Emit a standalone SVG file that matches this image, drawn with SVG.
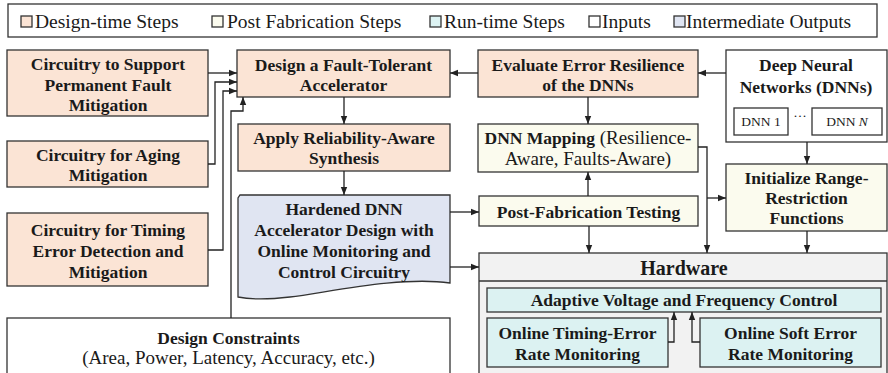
<svg xmlns="http://www.w3.org/2000/svg" width="888" height="373" viewBox="0 0 888 373" font-family="'Liberation Serif', 'Times New Roman', serif">
<defs>
<marker id="ah" viewBox="0 0 10 10" refX="10" refY="5" markerWidth="8" markerHeight="8" markerUnits="userSpaceOnUse" orient="auto"><path d="M0,1 L10,5 L0,9 z" fill="#222"/></marker>
<style>
text{fill:#1a1a1a}
.b{font-weight:bold;font-size:17.5px;text-anchor:middle}
.r{font-size:19px;text-anchor:middle}
.lg{font-size:19.5px}
.sm{font-size:13.5px;text-anchor:middle}
.box{stroke:#333;stroke-width:1.3}
.dt{fill:#fbe4d5}
.pf{fill:#fbfbee}
.rt{fill:#dcf2f2}
.in{fill:#fff}
.io{fill:#e0e5f2}
.hw{fill:#f2f2f2}
.c{fill:none;stroke:#222;stroke-width:1.3;marker-end:url(#ah)}
</style>
</defs>
<g id="legend">
<rect x="8" y="4" width="869" height="33" fill="#fff" stroke="#333" stroke-width="1.3"/>
<rect x="21" y="16" width="11" height="11" class="box dt" stroke-width="1"/>
<text x="35" y="28" class="lg">Design-time Steps</text>
<rect x="212" y="16" width="11" height="11" class="box pf" stroke-width="1"/>
<text x="227" y="28" class="lg">Post Fabrication Steps</text>
<rect x="430" y="16" width="11" height="11" class="box rt" stroke-width="1"/>
<text x="444" y="28" class="lg">Run-time Steps</text>
<rect x="589" y="16" width="11" height="11" class="box in" stroke-width="1"/>
<text x="602" y="28" class="lg">Inputs</text>
<rect x="674" y="16" width="11" height="11" class="box io" stroke-width="1"/>
<text x="686" y="28" class="lg">Intermediate Outputs</text>
</g>
<g id="perm">
<rect x="7" y="50" width="201" height="66" class="box dt"/>
<text class="b" x="108" y="70">Circuitry to Support</text>
<text class="b" x="108" y="91">Permanent Fault</text>
<text class="b" x="108" y="111">Mitigation</text>
</g>
<g id="aging">
<rect x="7" y="141" width="201" height="46" class="box dt"/>
<text class="b" x="108" y="161">Circuitry for Aging</text>
<text class="b" x="108" y="181">Mitigation</text>
</g>
<g id="timing">
<rect x="7" y="213" width="201" height="73" class="box dt"/>
<text class="b" x="108" y="236">Circuitry for Timing</text>
<text class="b" x="108" y="257">Error Detection and</text>
<text class="b" x="108" y="278">Mitigation</text>
</g>
<g id="design">
<rect x="237" y="50" width="213" height="47" class="box dt"/>
<text class="b" x="343.5" y="71">Design a Fault-Tolerant</text>
<text class="b" x="343.5" y="91">Accelerator</text>
</g>
<g id="synth">
<rect x="238" y="124" width="212" height="47" class="box dt"/>
<text class="b" x="344" y="144">Apply Reliability-Aware</text>
<text class="b" x="344" y="164">Synthesis</text>
</g>
<g id="hardened">
<path d="M240,195 L450,195 L450,283 C400,276 330,292 290,297 C265,300 248,299 238,297 L238,198 Z" class="box io"/>
<text class="b" x="344" y="215">Hardened DNN</text>
<text class="b" x="344" y="236">Accelerator Design with</text>
<text class="b" x="344" y="257">Online Monitoring and</text>
<text class="b" x="344" y="278">Control Circuitry</text>
</g>
<g id="evaluate">
<rect x="478" y="50" width="220" height="47" class="box dt"/>
<text class="b" x="588" y="71">Evaluate Error Resilience</text>
<text class="b" x="588" y="91">of the DNNs</text>
</g>
<g id="dnns">
<rect x="726" y="50" width="161" height="92" class="box in"/>
<text class="b" x="806" y="71">Deep Neural</text>
<text class="b" x="806" y="93">Networks (DNNs)</text>
<rect x="734" y="108" width="54" height="27" class="box in"/>
<text class="sm" x="761" y="126">DNN 1</text>
<text class="sm" x="800" y="120">···</text>
<rect x="812" y="108" width="70" height="27" class="box in"/>
<text class="sm" x="847" y="126">DNN <tspan font-style="italic">N</tspan></text>
</g>
<g id="mapping">
<rect x="478" y="124" width="220" height="48" class="box pf"/>
<text class="r" x="588" y="144"><tspan font-weight="bold" font-size="17.5">DNN Mapping</tspan> (Resilience-</text>
<text class="r" x="588" y="165">Aware, Faults-Aware)</text>
</g>
<g id="postfab">
<rect x="479" y="196" width="219" height="30" class="box pf"/>
<text class="b" x="588.5" y="218">Post-Fabrication Testing</text>
</g>
<g id="init">
<rect x="726" y="164" width="161" height="67" class="box pf"/>
<text class="b" x="806.5" y="184">Initialize Range-</text>
<text class="b" x="806.5" y="204">Restriction</text>
<text class="b" x="806.5" y="224">Functions</text>
</g>
<g id="hardware">
<rect x="479" y="253" width="408" height="125" class="box hw"/>
<line x1="479" y1="281" x2="887" y2="281" stroke="#333" stroke-width="1.3"/>
<text x="684" y="275" font-size="20" font-weight="bold" text-anchor="middle">Hardware</text>
</g>
<g id="avfc">
<rect x="487" y="288" width="394" height="24" class="box rt"/>
<text class="b" x="684" y="306">Adaptive Voltage and Frequency Control</text>
</g>
<g id="timingmon">
<rect x="487" y="318" width="181" height="49" class="box rt"/>
<text class="b" x="577.5" y="339">Online Timing-Error</text>
<text class="b" x="577.5" y="360">Rate Monitoring</text>
</g>
<g id="softmon">
<rect x="700" y="318" width="181" height="49" class="box rt"/>
<text class="b" x="790.5" y="339">Online Soft Error</text>
<text class="b" x="790.5" y="360">Rate Monitoring</text>
</g>
<g id="constraints">
<rect x="7" y="318" width="443" height="60" class="box in"/>
<text class="b" x="228.5" y="344">Design Constraints</text>
<text class="r" x="228.5" y="364">(Area, Power, Latency, Accuracy, etc.)</text>
</g>
<g id="connectors">
<path class="c" d="M208,73 L237,73"/>
<path class="c" d="M208,164 L215,164 L215,82 L237,82"/>
<path class="c" d="M208,250 L223,250 L223,91 L237,91"/>
<path class="c" d="M231,318 L231,111 L243,111 L243,97"/>
<path class="c" d="M344,97 L344,124"/>
<path class="c" d="M344,171 L344,195"/>
<path class="c" d="M478,73 L450,73"/>
<path class="c" d="M726,73 L698,73"/>
<path class="c" d="M588,97 L588,124"/>
<path class="c" d="M588,196 L588,172"/>
<path class="c" d="M450,212 L479,212"/>
<path class="c" d="M450,267 L479,267"/>
<path class="c" d="M589,226 L589,253"/>
<path class="c" d="M698,147 L707,147 L707,253"/>
<path class="c" d="M707,198 L726,198"/>
<path class="c" d="M807,142 L807,164"/>
<path class="c" d="M807,231 L807,253"/>
<path class="c" d="M668,342 L674,342 L674,312"/>
<path class="c" d="M700,342 L692,342 L692,312"/>
</g>
</svg>
